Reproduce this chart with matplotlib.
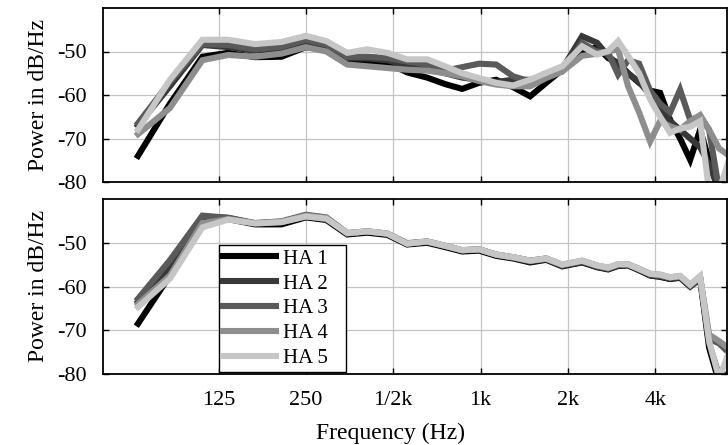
import matplotlib
matplotlib.use("Agg")
import matplotlib.pyplot as plt
from matplotlib.ticker import FixedLocator, FixedFormatter, NullLocator

plt.rcParams['font.family'] = ['Liberation Serif', 'DejaVu Serif']

freq = [66, 85, 110, 135, 167, 206, 250, 294, 347, 407, 477, 558, 654, 755, 864,
        988, 1131, 1294, 1481, 1682, 1910, 2236, 2519, 2749, 2976, 3221, 3516,
        3836, 4153, 4496, 4866, 5271, 5704, 6126, 6634, 7125]

labels = ["HA 1", "HA 2", "HA 3", "HA 4", "HA 5"]
colors = ["#000000", "#383838", "#5a5a5a", "#8e8e8e", "#c6c6c6"]

# Top panel
top_ha1 = [-74, -62, -51.2, -50.3, -51.3, -51.2, -49, -49.6, -51.8, -52.2, -52.6, -54.8,
           -56, -57.5, -58.6, -57.2, -56.5, -58.2, -60.3, -57.2, -54.2, -50, -49, -51.5,
           -52.6, -55, -57.2, -59, -59.5, -65.7, -70, -74.9, -68, -75, -82, -82]
top_ha2 = [-67, -58, -48.5, -49, -49.8, -49.3, -47.8, -49.2, -51.5, -51.6, -52, -53.2,
           -54, -55, -56, -56.5, -57, -56.5, -56.5, -55.5, -54, -46.5, -48, -51,
           -53, -55, -57, -60, -63, -66, -68, -70, -72, -76, -82, -82]
top_ha3 = [-66.5, -57, -48.3, -48.5, -49.5, -48.9, -47.3, -48.4, -51.2, -51.2, -51.5, -52.3,
           -53, -54.4, -53.6, -52.8, -53, -55.7, -56.9, -55.4, -54.6, -48, -50, -50.3,
           -55.3, -52, -52.8, -59, -62, -64, -58.8, -65.7, -65, -68, -82, -82]
top_ha4 = [-69, -63, -52, -50.8, -51.2, -50.5, -49, -50, -53, -53.4, -53.8, -54.2,
           -54.4, -55, -55.7, -56.8, -57.6, -58, -58, -56.1, -54.6, -51, -50.5, -50,
           -49.5, -58, -64, -70.7, -66, -67.2, -68, -66, -64.6, -68, -72.3, -73.8]
top_ha5 = [-68, -56.5, -47.3, -47.3, -48.3, -47.8, -46.4, -47.6, -50.3, -49.5, -50.3, -51.8,
           -51.8, -53.4, -55, -56.1, -57.2, -57.8, -56.5, -54.9, -53.4, -48.8, -50.7, -49.9,
           -47.6, -51, -55, -61, -65, -68.7, -67.7, -67.3, -66, -82, -82, -75.5]

# Bottom panel
bot_ha1 = [-68.5, -57.5, -44.3, -44.6, -45.8, -45.8, -44.2, -44.8, -48.1, -47.7, -48.2, -50.4,
           -50.0, -51.0, -52.0, -51.8, -53.0, -53.6, -54.5, -53.9, -55.4, -54.5, -55.6, -56.1,
           -55.3, -55.2, -56.3, -57.5, -57.8, -58.3, -58.0, -60.0, -58.2, -74, -82, -82]
bot_ha2 = [-63.5, -55.5, -44.0, -44.3, -45.6, -45.3, -44.0, -44.6, -47.9, -47.5, -48.0, -50.2,
           -49.8, -50.8, -51.8, -51.6, -52.8, -53.5, -54.3, -53.8, -55.3, -54.4, -55.5, -56.0,
           -55.2, -55.1, -56.2, -57.4, -57.7, -58.2, -57.9, -60.0, -58.3, -73, -80.5, -80]
bot_ha3 = [-62.8, -54.0, -43.8, -44.3, -45.5, -45.1, -43.6, -44.2, -47.8, -47.4, -47.9, -50.1,
           -49.7, -50.7, -51.7, -51.5, -52.7, -53.3, -54.1, -53.6, -55.1, -54.2, -55.3, -55.9,
           -55.0, -55.0, -56.0, -57.2, -57.5, -58.0, -57.7, -59.8, -58.0, -72, -73, -75]
bot_ha4 = [-64.0, -57.5, -45.5, -44.6, -45.5, -45.2, -43.8, -44.3, -47.8, -47.4, -47.9, -50.2,
           -49.7, -50.7, -51.7, -51.5, -52.7, -53.3, -54.1, -53.6, -55.0, -54.1, -55.2, -55.7,
           -54.9, -54.9, -56.0, -57.1, -57.3, -57.9, -57.6, -59.6, -57.8, -71, -72.5, -74]
bot_ha5 = [-64.7, -58.2, -46.5, -44.7, -45.6, -45.3, -44.0, -44.5, -47.8, -47.4, -47.9, -50.2,
           -49.7, -50.7, -51.7, -51.5, -52.7, -53.3, -54.1, -53.6, -55.0, -54.1, -55.2, -55.7,
           -54.9, -54.9, -56.0, -57.1, -57.3, -57.9, -57.6, -59.6, -57.6, -72.5, -81, -75.5]

top_series = [top_ha1, top_ha2, top_ha3, top_ha4, top_ha5]
bot_series = [bot_ha1, bot_ha2, bot_ha3, bot_ha4, bot_ha5]

xticks = [125, 250, 500, 1000, 2000, 4000]
xticklabels = ["125", "250", "1/2k", "1k", "2k", "4k"]
yticks = [-80, -70, -60, -50]
yticklabels = ["-80", "-70", "-60", "-50"]

fig = plt.figure(figsize=(7.28, 4.45), dpi=100)
ax1 = fig.add_axes([103/728, 1-182/445, 624/728, 174/445])
ax2 = fig.add_axes([103/728, 1-374/445, 624/728, 175/445])

for ax, series in ((ax1, top_series), (ax2, bot_series)):
    for vals, col, lab in zip(series, colors, labels):
        ax.plot(freq, vals, color=col, lw=4.4, label=lab, solid_joinstyle='miter')
    ax.set_xscale('log')
    ax.set_xlim(50, 7060)
    ax.set_ylim(-80, -40)
    ax.xaxis.set_major_locator(FixedLocator(xticks))
    ax.xaxis.set_minor_locator(NullLocator())
    ax.yaxis.set_major_locator(FixedLocator(yticks))
    ax.yaxis.set_major_formatter(FixedFormatter(yticklabels))
    ax.grid(True, color="#c4c4c4", lw=0.9)
    ax.set_axisbelow(True)
    ax.tick_params(direction='in', length=4, width=1, top=True, right=True,
                   labelsize=16, pad=12)
    for s in ax.spines.values():
        s.set_linewidth(1.3)
    ax.set_ylabel("Power in dB/Hz", fontsize=17)
    ax.yaxis.set_label_coords(-0.087, 0.5)

ax1.xaxis.set_major_formatter(FixedFormatter([""] * len(xticks)))
ax2.xaxis.set_major_formatter(FixedFormatter(xticklabels))
ax2.set_xlabel("Frequency (Hz)", fontsize=17)
ax2.xaxis.set_label_coords(0.46, -0.28)

leg = ax2.legend(loc='lower left', bbox_to_anchor=(0.186, 0.011, 0.203, 0.75),
                 mode='expand', borderaxespad=0,
                 fontsize=15, handlelength=2.55, handletextpad=0.3, labelspacing=0.25,
                 borderpad=0.2, fancybox=False, framealpha=1, edgecolor='black')
leg.get_frame().set_linewidth(1.0)
for line in leg.get_lines():
    line.set_linewidth(4.4)

fig.savefig("out.png", dpi=100)
